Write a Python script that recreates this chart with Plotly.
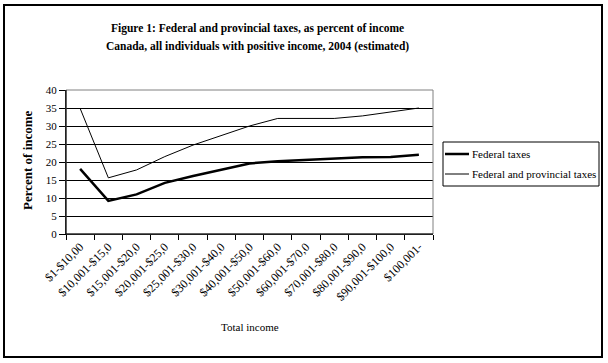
import plotly.graph_objects as go

categories = ["$1-$10,000", "$10,001-$15,000", "$15,001-$20,000", "$20,001-$25,000",
              "$25,001-$30,000", "$30,001-$40,000", "$40,001-$50,000", "$50,001-$60,000",
              "$60,001-$70,000", "$70,001-$80,000", "$80,001-$90,000", "$90,001-$100,000",
              "$100,001+"]
tick_labels = ["$1-$10,00", "$10,001-$15,0", "$15,001-$20,0", "$20,001-$25,0",
               "$25,001-$30,0", "$30,001-$40,0", "$40,001-$50,0", "$50,001-$60,0",
               "$60,001-$70,0", "$70,001-$80,0", "$80,001-$90,0", "$90,001-$100,0",
               "$100,001-"]
federal = [18.1, 9.2, 11.0, 14.2, 16.1, 17.8, 19.6, 20.2, 20.6, 20.9, 21.3, 21.4, 22.0]
fed_prov = [34.9, 15.6, 17.8, 21.5, 24.7, 27.3, 30.0, 32.1, 32.1, 32.1, 32.8, 33.8, 35.0]
y_ticks = [0, 5, 10, 15, 20, 25, 30, 35, 40]
series_names = ["Federal taxes", "Federal and provincial taxes"]
series_widths = [2.5, 1]

FONT = "Liberation Serif, Times New Roman, serif"
W, H = 608, 363
L, R, T, B = 66, 175, 90, 129
pw, ph = W - L - R, H - T - B


def px(x):
    return (x - L) / pw


def py(y):
    return (H - y - B) / ph


fig = go.Figure()
for vals, name, wd in zip([federal, fed_prov], series_names, series_widths):
    fig.add_trace(go.Scatter(x=categories, y=vals, mode="lines", name=name,
                             line=dict(color="black", width=wd), showlegend=False))

annotations = [
    dict(text="<b>Figure 1: Federal and provincial taxes, as percent of income</b>",
         x=px(257), y=py(20), font=dict(family=FONT, size=11.5)),
    dict(text="<b>Canada, all individuals with positive income, 2004 (estimated)</b>",
         x=px(257), y=py(38), font=dict(family=FONT, size=11.5)),
    dict(text="<b>Percent of income</b>", textangle=-90, x=px(27), y=py(160),
         xanchor="center", font=dict(family=FONT, size=13)),
    dict(text="Total income", x=px(250), y=py(335), font=dict(family=FONT, size=11)),
]
# legend text
for name, ly in zip(series_names, [154, 174]):
    annotations.append(dict(text=name, x=px(470), y=py(ly), xanchor="left",
                            font=dict(family=FONT, size=11)))
for a in annotations:
    a.update(xref="paper", yref="paper", showarrow=False)

fig.update_layout(
    width=W, height=H,
    margin=dict(l=L, r=R, t=T, b=B, autoexpand=False),
    paper_bgcolor="white", plot_bgcolor="white",
    font=dict(family=FONT, size=12, color="black"),
    showlegend=False,
    xaxis=dict(type="category", tickmode="array", tickvals=categories, ticktext=tick_labels,
               tickangle=-45, showline=True, linecolor="black", linewidth=1,
               ticks="outside", tickson="boundaries", ticklen=5, tickcolor="black",
               showgrid=False, tickfont=dict(family=FONT, size=12),
               range=[-0.5, 12.5], automargin=False),
    yaxis=dict(range=[0, 40], tickvals=y_ticks, showline=True, linecolor="black",
               linewidth=1, ticks="outside", ticklen=6, tickcolor="black",
               showgrid=True, gridcolor="black", gridwidth=1, zeroline=False,
               tickfont=dict(family=FONT, size=11), automargin=False),
    annotations=annotations,
)

shapes = [
    dict(type="rect", x0=0, x1=1, y0=0, y1=1, line=dict(color="#808080", width=1)),
    dict(type="line", x0=0, x1=0, y0=0, y1=1, line=dict(color="black", width=1)),
    dict(type="line", x0=0, x1=1, y0=0, y1=0, line=dict(color="black", width=1)),
    # outer figure border
    dict(type="rect", x0=px(4), x1=px(602), y0=py(357), y1=py(5),
         line=dict(color="black", width=2)),
    # legend box
    dict(type="rect", x0=px(443), x1=px(599), y0=py(186), y1=py(142),
         line=dict(color="black", width=1), fillcolor="white"),
]
for wd, ly in zip(series_widths, [154, 174]):
    shapes.append(dict(type="line", x0=px(445), x1=px(469), y0=py(ly), y1=py(ly),
                       line=dict(color="black", width=wd)))
for s in shapes:
    s.update(xref="paper", yref="paper", layer="above")
    fig.add_shape(**s)

fig.write_html("out.html", config={"displayModeBar": False},
               post_script="document.body.style.margin='0';document.body.style.padding='0';")
